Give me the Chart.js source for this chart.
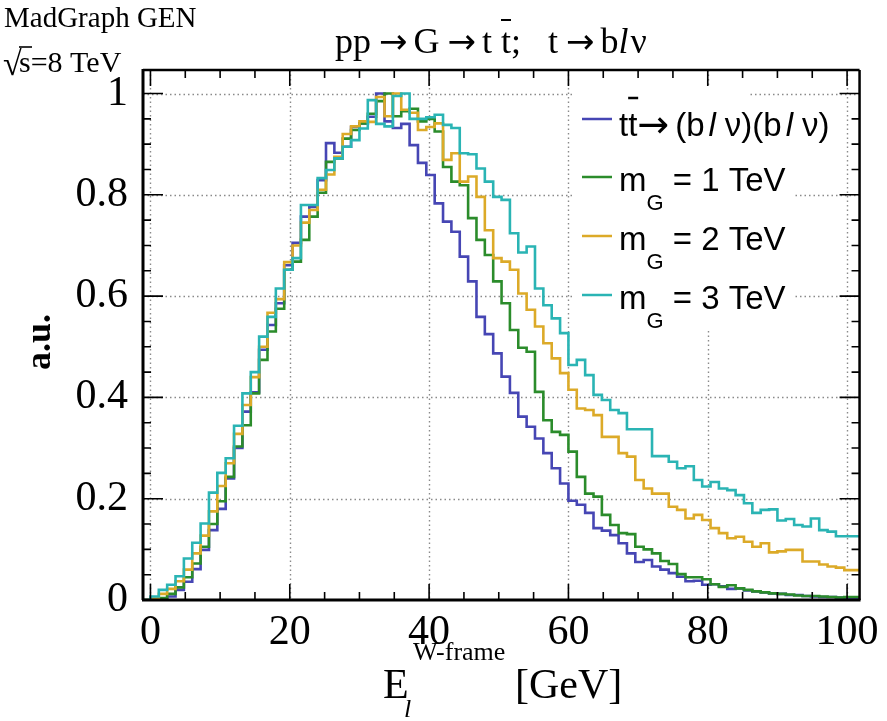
<!DOCTYPE html>
<html>
<head>
<meta charset="utf-8">
<script src="https://cdn.jsdelivr.net/npm/chart.js@4.4.0/dist/chart.umd.min.js"></script>
<style>
  html, body { margin: 0; padding: 0; background: #ffffff; }
  canvas { display: block; }
</style>
</head>
<body>
<canvas id="c" width="887" height="721"></canvas>
<script>
// Histogram binning: 1.2 GeV wide bins, first bin starts at -1.2 GeV
const BIN_LOW = -1.2;
const BIN_WIDTH = 1.2;

// Normalised lepton energy in the W rest frame (a.u.), one value per bin
const ttbarSM = [
  0, 0, 0, 0, 0.007, 0.02, 0.036, 0.061, 0.099, 0.138,
  0.18, 0.24, 0.30, 0.372, 0.41, 0.494, 0.543, 0.586, 0.661, 0.705,
  0.757, 0.776, 0.829, 0.902, 0.883, 0.895, 0.934, 0.941, 0.954, 1.0,
  0.945, 0.932, 0.94, 0.898, 0.863, 0.839, 0.783, 0.747, 0.727, 0.678,
  0.629, 0.559, 0.525, 0.487, 0.441, 0.409, 0.362, 0.342, 0.319, 0.29,
  0.26, 0.23, 0.196, 0.188, 0.172, 0.142, 0.137, 0.128, 0.112, 0.092,
  0.075, 0.079, 0.066, 0.060, 0.053, 0.046, 0.037, 0.038, 0.030, 0.031,
  0.027, 0.022, 0.023, 0.019, 0.017, 0.015, 0.013, 0.012, 0.010, 0.010,
  0.008, 0.007, 0.006, 0.006, 0.005, 0.004
];
const graviton1TeV = [
  0, 0, 0, 0.004, 0.012, 0.025, 0.045, 0.072, 0.105, 0.15,
  0.195, 0.243, 0.303, 0.345, 0.408, 0.474, 0.53, 0.575, 0.652, 0.668,
  0.711, 0.757, 0.804, 0.865, 0.872, 0.911, 0.928, 0.941, 0.96, 0.985,
  1.0, 0.955, 0.965, 0.97, 0.945, 0.95, 0.925, 0.855, 0.826, 0.819,
  0.754, 0.711, 0.681, 0.629, 0.586, 0.533, 0.498, 0.49, 0.411, 0.355,
  0.332, 0.326, 0.293, 0.243, 0.21, 0.204, 0.168, 0.148, 0.132, 0.13,
  0.105, 0.10, 0.092, 0.077, 0.071, 0.051, 0.045, 0.045, 0.041, 0.031,
  0.026, 0.029, 0.023, 0.02, 0.017, 0.015, 0.013, 0.012, 0.011, 0.009,
  0.008, 0.008, 0.007, 0.006, 0.005, 0.006
];
const graviton2TeV = [
  0, 0, 0.003, 0.012, 0.022, 0.037, 0.06, 0.092, 0.127, 0.175,
  0.225, 0.27, 0.328, 0.385, 0.44, 0.5, 0.567, 0.594, 0.667, 0.70,
  0.745, 0.77, 0.81, 0.84, 0.875, 0.92, 0.935, 0.945, 0.944, 0.993,
  0.955, 1.0, 0.968, 0.962, 0.928, 0.934, 0.941, 0.869, 0.882, 0.826,
  0.836, 0.796, 0.73, 0.675, 0.668, 0.652, 0.605, 0.573, 0.54, 0.507,
  0.477, 0.448, 0.415, 0.378, 0.375, 0.365, 0.322, 0.322, 0.29, 0.283,
  0.237, 0.22, 0.21, 0.21, 0.184, 0.178, 0.161, 0.168, 0.158, 0.142,
  0.132, 0.122, 0.125, 0.115, 0.105, 0.112, 0.094, 0.096, 0.099, 0.099,
  0.076, 0.076, 0.07, 0.066, 0.064, 0.059
];
const graviton3TeV = [
  0, 0, 0.007, 0.02, 0.03, 0.047, 0.082, 0.113, 0.151, 0.212,
  0.251, 0.28, 0.344, 0.408, 0.45, 0.52, 0.559, 0.615, 0.652, 0.675,
  0.78, 0.78, 0.833, 0.849, 0.872, 0.895, 0.908, 0.931, 0.987, 0.94,
  0.935, 0.995, 1.0, 0.95, 0.95, 0.953, 0.958, 0.938, 0.932, 0.882,
  0.88, 0.852, 0.826, 0.796, 0.79, 0.724, 0.686, 0.698, 0.615, 0.582,
  0.556, 0.527, 0.464, 0.474, 0.444, 0.405, 0.395, 0.375, 0.369, 0.337,
  0.337, 0.337, 0.284, 0.284, 0.273, 0.26, 0.264, 0.237, 0.224, 0.233,
  0.22, 0.217, 0.207, 0.191, 0.172, 0.178, 0.179, 0.157, 0.16, 0.148,
  0.145, 0.161, 0.138, 0.135, 0.126, 0.126
];

const seriesColors = ['#4646b4', '#2b8c2b', '#dcaa28', '#2ab4b4'];
const massLabels = ['1', '2', '3'];
const xTickValues = [0, 20, 40, 60, 80, 100];
const yTickValues = [0, 0.2, 0.4, 0.6, 0.8, 1];

const SERIF = '"Liberation Serif", "Times New Roman", serif';
const SANS = '"Liberation Sans", Arial, sans-serif';
const ARROW = '"DejaVu Sans", sans-serif';

// Turn bin contents into step points at the bin edges
function toSteps(values) {
  const pts = values.map((v, i) => ({ x: BIN_LOW + i * BIN_WIDTH, y: v }));
  pts.push({ x: BIN_LOW + values.length * BIN_WIDTH, y: values[values.length - 1] });
  return pts;
}

// Draws a run of text pieces (font, vertical shift, optional overbar) left to right
function drawRuns(ctx, x, y, runs) {
  let cx = x;
  runs.forEach(r => {
    cx += r.pre || 0;
    ctx.font = r.font;
    ctx.fillText(r.text, cx, y + (r.dy || 0));
    const w = ctx.measureText(r.text).width;
    if (r.bar) {
      ctx.save();
      ctx.lineWidth = r.bar.w || 2;
      ctx.beginPath();
      ctx.moveTo(cx + r.bar.x0, y + r.bar.y);
      ctx.lineTo(cx + r.bar.x1, y + r.bar.y);
      ctx.stroke();
      ctx.restore();
    }
    cx += w + (r.gap || 0);
  });
  return cx;
}

const frame = {
  id: 'frame',
  beforeDatasetsDraw(chart) {
    const { ctx, chartArea: a, scales: { x, y } } = chart;
    ctx.save();
    ctx.strokeStyle = '#8a8a8a';
    ctx.lineWidth = 1.4;
    ctx.setLineDash([1.5, 3]);
    xTickValues.forEach(v => {
      const px = Math.round(x.getPixelForValue(v)) + 0.5;
      ctx.beginPath(); ctx.moveTo(px, a.top); ctx.lineTo(px, a.bottom); ctx.stroke();
    });
    yTickValues.filter(v => v > 0).forEach(v => {
      const py = Math.round(y.getPixelForValue(v)) + 0.5;
      ctx.beginPath(); ctx.moveTo(a.left, py); ctx.lineTo(a.right, py); ctx.stroke();
    });
    ctx.restore();
  },
  afterDatasetsDraw(chart) {
    const { ctx, chartArea: a, scales: { x, y } } = chart;
    ctx.save();
    // legend
    const lx = 582, lw = 30, tx = 619;
    const rowsY = [119, 177, 236, 295];
    ctx.fillStyle = '#ffffff';
    ctx.fillRect(572, 86, 178, 240);
    ctx.fillRect(615, 96, 228, 48);
    ctx.fillRect(615, 156, 180, 60);
    ctx.fillRect(615, 214, 180, 60);
    ctx.fillRect(615, 272, 180, 56);
    chart.data.datasets.forEach((ds, i) => {
      ctx.strokeStyle = ds.borderColor;
      ctx.lineWidth = 2.5;
      ctx.beginPath(); ctx.moveTo(lx, rowsY[i]); ctx.lineTo(lx + lw, rowsY[i]); ctx.stroke();
    });
    ctx.fillStyle = '#000';
    ctx.strokeStyle = '#000';
    ctx.textBaseline = 'alphabetic';
    ctx.textAlign = 'left';
    const F = '33px ' + SANS, FI = 'italic 33px ' + SANS, FS = '22px ' + SANS;
    drawRuns(ctx, tx, 136, [
      { text: 't', font: F },
      { text: 't', font: F, bar: { x0: 0, x1: 10, y: -38, w: 2.5 } },
      { text: '\u2192', font: '38px ' + ARROW, dy: 1 },
      { text: '(b', font: F, pre: 6 },
      { text: 'l', font: FI, pre: 4, gap: 9 },
      { text: '\u03bd)(b', font: F },
      { text: 'l', font: FI, pre: 4, gap: 9 },
      { text: '\u03bd)', font: F }
    ]);
    massLabels.forEach((m, i) => {
      const by = rowsY[i + 1] + 14;
      drawRuns(ctx, tx, by, [
        { text: 'm', font: F },
        { text: 'G', font: FS, dy: 19 },
        { text: ' = ' + m + ' TeV', font: F }
      ]);
    });

    // axis frame
    ctx.strokeStyle = '#000';
    ctx.setLineDash([]);
    ctx.lineWidth = 2.5;
    ctx.beginPath();
    ctx.moveTo(a.left, a.top); ctx.lineTo(a.right, a.top);
    ctx.moveTo(a.right, a.top); ctx.lineTo(a.right, a.bottom);
    ctx.stroke();
    ctx.lineWidth = 3;
    ctx.beginPath();
    ctx.moveTo(a.left, a.top - 1); ctx.lineTo(a.left, a.bottom);
    ctx.moveTo(a.left - 1, a.bottom); ctx.lineTo(a.right + 1, a.bottom);
    ctx.stroke();

    // tick marks on all four sides
    ctx.lineWidth = 1.6;
    ctx.beginPath();
    for (let v = 0; v <= 100; v += 5) {
      const px = x.getPixelForValue(v);
      const len = v % 20 === 0 ? 16 : 8;
      ctx.moveTo(px, a.bottom); ctx.lineTo(px, a.bottom - len);
      ctx.moveTo(px, a.top); ctx.lineTo(px, a.top + len);
    }
    for (let k = 0; k <= 20; k++) {
      const py = y.getPixelForValue(k * 0.05);
      const len = k % 4 === 0 ? 20 : 8;
      ctx.moveTo(a.left, py); ctx.lineTo(a.left + len, py);
      ctx.moveTo(a.right, py); ctx.lineTo(a.right - len, py);
    }
    ctx.stroke();

    // process title
    ctx.fillStyle = '#000';
    const T = '36px ' + SERIF;
    const A = '34px ' + ARROW;
    drawRuns(ctx, 335, 53, [
      { text: 'pp', font: T, gap: 8 },
      { text: '\u2192', font: A, gap: 6 },
      { text: 'G', font: T, gap: 8 },
      { text: '\u2192', font: A, gap: 6 },
      { text: 't ', font: T },
      { text: 't', font: T, bar: { x0: 0, x1: 10, y: -33, w: 2 } },
      { text: ';   t', font: T, gap: 8 },
      { text: '\u2192', font: A, gap: 6 },
      { text: 'b', font: T },
      { text: 'l', font: 'italic 36px ' + SERIF, gap: 2 },
      { text: '\u03bd', font: T }
    ]);

    // generator and energy
    ctx.font = '29px ' + SERIF;
    ctx.fillText('MadGraph GEN', 4, 27);
    ctx.font = '34px ' + SERIF;
    ctx.fillText('\u221a', 3, 75);
    ctx.lineWidth = 1.6;
    ctx.beginPath(); ctx.moveTo(19, 47); ctx.lineTo(32, 47); ctx.stroke();
    ctx.font = '30px ' + SERIF;
    ctx.fillText('s=8 TeV', 19, 72);

    // y axis title
    ctx.save();
    ctx.translate(50, 342);
    ctx.rotate(-Math.PI / 2);
    ctx.textAlign = 'center';
    ctx.font = 'bold 36px ' + SERIF;
    ctx.fillText('a.u.', 0, 0);
    ctx.restore();

    // x axis title
    ctx.font = '42px ' + SERIF;
    ctx.fillText('E', 383, 698);
    ctx.font = '26px ' + SERIF;
    ctx.fillText('W-frame', 413, 660);
    ctx.font = 'italic 26px ' + SERIF;
    ctx.fillText('l', 404, 717);
    ctx.font = '42px ' + SERIF;
    ctx.fillText('[GeV]', 515, 698);
    ctx.restore();
  }
};

const datasets = [ttbarSM, graviton1TeV, graviton2TeV, graviton3TeV].map((vals, i) => ({
  label: i === 0 ? 'tt \u2192 (bl\u03bd)(bl\u03bd)' : 'm_G = ' + massLabels[i - 1] + ' TeV',
  data: toSteps(vals),
  borderColor: seriesColors[i],
  borderWidth: 2.6,
  stepped: 'after',
  pointRadius: 0,
  fill: false,
  order: 4 - i
}));

new Chart(document.getElementById('c').getContext('2d'), {
  type: 'line',
  data: { datasets },
  options: {
    responsive: false,
    animation: false,
    devicePixelRatio: 1,
    layout: { padding: { top: 70, right: 24, bottom: 0, left: 0 } },
    plugins: { legend: { display: false }, tooltip: { enabled: false }, title: { display: false } },
    scales: {
      x: {
        type: 'linear',
        min: -1.07,
        max: 101.79,
        afterBuildTicks: s => { s.ticks = xTickValues.map(v => ({ value: v })); },
        afterFit: s => { s.height = 121; },
        grid: { display: false, drawTicks: false },
        border: { display: false },
        ticks: {
          font: { family: SERIF, size: 42 },
          color: '#000',
          padding: 8,
          maxRotation: 0,
          autoSkip: false
        }
      },
      y: {
        min: 0,
        max: 1.0464,
        afterBuildTicks: s => { s.ticks = yTickValues.map(v => ({ value: v })); },
        afterFit: s => { s.width = 143; },
        grid: { display: false, drawTicks: false },
        border: { display: false },
        ticks: {
          font: { family: SERIF, size: 42 },
          color: '#000',
          padding: 15,
          callback: v => (v === 0 || v === 1) ? String(v) : v.toFixed(1)
        }
      }
    }
  },
  plugins: [frame]
});
</script>
</body>
</html>
